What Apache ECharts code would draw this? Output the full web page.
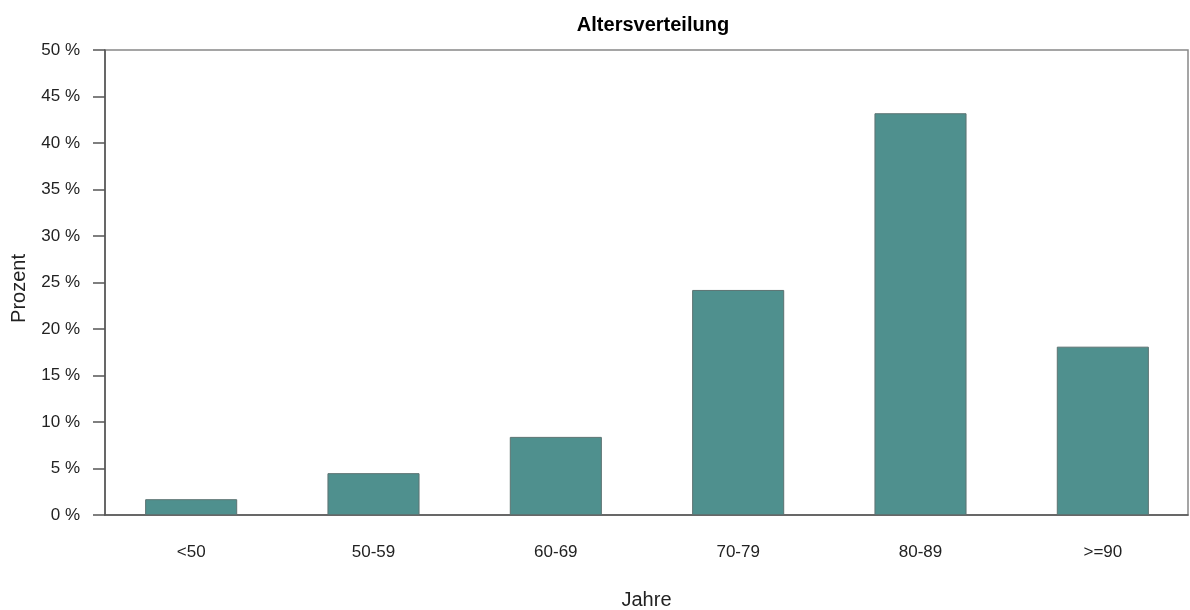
<!DOCTYPE html>
<html><head><meta charset="utf-8">
<script src="https://cdn.jsdelivr.net/npm/echarts@6/dist/echarts.min.js"></script>
<style>html,body{margin:0;padding:0;background:#fff}#c{width:1190px;height:610px}</style>
</head><body><div id="c"></div>
<script>
const categories = ['<50', '50-59', '60-69', '70-79', '80-89', '>=90'];
const values = [1.7, 4.5, 8.4, 24.2, 43.2, 18.1];
const yTicks = [0, 5, 10, 15, 20, 25, 30, 35, 40, 45, 50];
const titleText = 'Altersverteilung';
const xName = 'Jahre';
const yName = 'Prozent';

const font = 'Arial, "Liberation Sans", sans-serif';
const yMin = yTicks[0], yMax = yTicks[yTicks.length - 1];
const chart = echarts.init(document.getElementById('c'), null, {renderer: 'canvas'});
chart.setOption({
  animation: false,
  title: {text: titleText, left: 648, textAlign: 'center', top: 10,
    textStyle: {fontFamily: font, fontSize: 20, fontWeight: 'bold', color: '#000'}},
  grid: [
    {left: 105, right: 2, top: 50, bottom: 95, show: true, borderColor: '#888', borderWidth: 1.5,
     containLabel: false, outerBoundsMode: 'none'},
    {left: 100, right: -4, top: 50, bottom: 95, show: false,
     containLabel: false, outerBoundsMode: 'none'}
  ],
  xAxis: [
    {
      type: 'category', gridIndex: 0, data: categories,
      name: xName, nameLocation: 'middle', nameGap: 75,
      nameTextStyle: {fontFamily: font, fontSize: 20, color: '#222'},
      axisLine: {lineStyle: {color: '#555', width: 1.5}},
      axisTick: {show: false},
      axisLabel: {show: false}
    },
    {
      type: 'category', gridIndex: 1, data: categories,
      axisLine: {show: false},
      axisTick: {show: false},
      axisLabel: {fontFamily: font, fontSize: 17, color: '#222', margin: 29}
    }
  ],
  yAxis: [
    {
      type: 'value', gridIndex: 0, min: yMin, max: yMax, interval: 5,
      name: yName, nameLocation: 'middle', nameGap: 76,
      nameTextStyle: {fontFamily: font, fontSize: 20, color: '#222', padding: [0, 12, 0, 0]},
      axisLine: {show: true, lineStyle: {color: '#555', width: 1.5}},
      axisTick: {show: true, length: 12, lineStyle: {color: '#555', width: 1.5}},
      splitLine: {show: false},
      axisLabel: {fontFamily: font, fontSize: 17, color: '#222', margin: 25,
        formatter: v => v + ' %'}
    },
    {
      type: 'value', gridIndex: 1, min: yMin, max: yMax, interval: 5,
      show: false, splitLine: {show: false}
    }
  ],
  series: [{
    type: 'bar', xAxisIndex: 1, yAxisIndex: 1, data: values, barWidth: '50.5%',
    itemStyle: {color: '#4f908e', borderColor: '#5c7372', borderWidth: 1}
  }]
});
</script></body></html>
